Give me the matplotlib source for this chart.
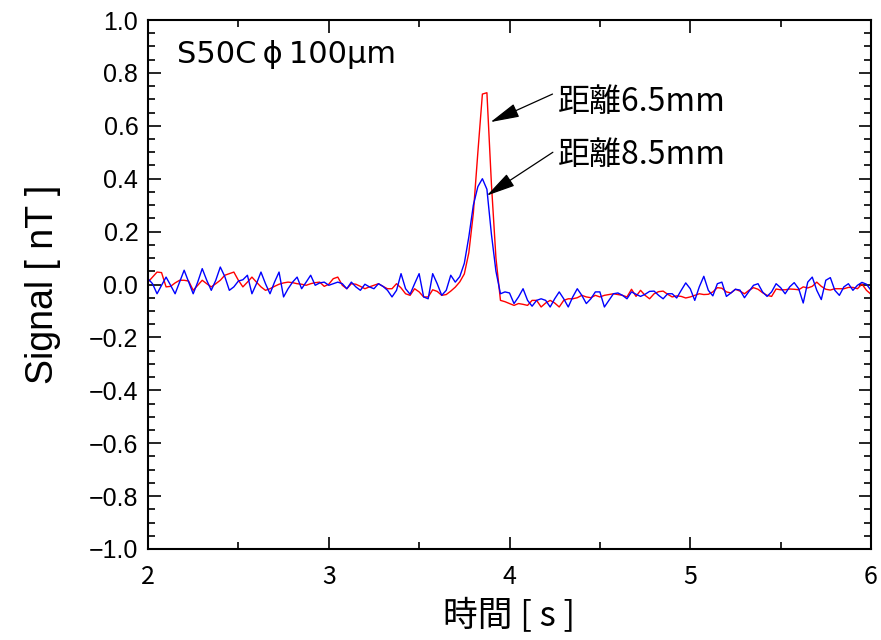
import numpy as np
import matplotlib
matplotlib.use("Agg")
import matplotlib.pyplot as plt

# sampling grid
t_start = 2.0
dt = 0.025

red_650 = [
    0.009, 0.028, 0.047, 0.045, -0.009, -0.007, 0.006, 0.016, 0.016, 0.013,
    -0.022, -0.003, 0.016, 0.003, -0.009, 0.003, 0.016, 0.035, 0.041, 0.047,
    0.016, -0.009, 0.009, 0.028, 0.009, -0.009, -0.022, -0.016, -0.007, 0.001,
    0.006, 0.009, 0.007, 0.003, 0.001, -0.003, 0.003, 0.007, 0.009, -0.007,
    0.001, 0.022, 0.028, -0.003, -0.016, 0.003, 0.001, -0.007, -0.016, -0.009,
    -0.003, 0.003, -0.007, -0.016,
    -0.016, 0.003, -0.013, -0.035, -0.041, -0.016, -0.028, -0.047, -0.047, -0.020,
    -0.026, -0.041, -0.038, -0.025,
    -0.010, 0.010, 0.040, 0.120, 0.270, 0.500, 0.720, 0.725, 0.380, 0.100,
    -0.060, -0.065,
    -0.072, -0.079, -0.072, -0.075, -0.079, -0.060, -0.060, -0.085, -0.070, -0.060,
    -0.070, -0.085, -0.060, -0.054, -0.054, -0.050, -0.041, -0.047, -0.050, -0.041,
    -0.047, -0.041, -0.038, -0.035, -0.038, -0.041, -0.047, -0.018,
    -0.045, -0.022, -0.041, -0.054, -0.035, -0.027, -0.025, -0.037, -0.047, -0.043,
    -0.045, -0.051, -0.047, -0.041, -0.035, -0.038, -0.037, -0.028, -0.012, -0.014,
    -0.028, -0.032, -0.018, -0.025, -0.035, -0.022, -0.012, -0.018, -0.031, -0.041,
    -0.045, -0.017, -0.020, -0.020, -0.017, -0.018, -0.020, -0.009, -0.013, -0.007,
    0.009, -0.007, -0.018, -0.021, -0.016, -0.016, -0.016, -0.011, -0.011, -0.016,
    0.002, -0.022, -0.037,
]

blue_850 = [
    0.022, 0.003, -0.035, -0.003, 0.028, -0.003, -0.035, 0.009, 0.054, 0.009,
    -0.035, 0.009, 0.060, 0.016, -0.022, 0.016, 0.066, 0.030, -0.022, -0.009,
    0.013, 0.018, 0.035, -0.035, 0.003, 0.047, 0.003, -0.035, 0.009, 0.047,
    -0.047, -0.016, 0.009, 0.028, -0.016, 0.009, 0.035, -0.003, 0.006, 0.009,
    -0.003, 0.003, 0.009, 0.003, -0.016, 0.009, -0.009, -0.022, 0.001, -0.009,
    -0.016, 0.003, -0.007, -0.022,
    -0.047, -0.022, 0.041, -0.016, -0.037, 0.003, 0.041, -0.047, -0.054, 0.041,
    0.003, -0.041, -0.022, 0.035, 0.009, 0.030,
    0.080, 0.180, 0.300, 0.370, 0.400, 0.360, 0.190, 0.050, -0.035,
    -0.028, -0.032, -0.072, -0.047, -0.016, -0.060, -0.082, -0.060, -0.054, -0.060,
    -0.085, -0.054, -0.028, -0.054, -0.085, -0.047, -0.016, -0.041, -0.072, -0.054,
    -0.028, -0.028, -0.085, -0.060, -0.035, -0.032, -0.041, -0.054, -0.028,
    -0.037, -0.045, -0.037, -0.026, -0.025, -0.041, -0.054, -0.035, -0.035, -0.051,
    -0.022, 0.006, -0.016, -0.060, -0.009, 0.031, -0.022, -0.043, 0.003, 0.009,
    -0.045, -0.032, -0.018, -0.021, -0.050, -0.026, -0.003, 0.003, -0.028, -0.045,
    -0.028, 0.003, -0.012, -0.035, -0.009, 0.007, -0.016, -0.070, 0.009, 0.028,
    -0.022, -0.057, 0.016, 0.026, -0.022, -0.041, -0.009, 0.003, -0.022, -0.003,
    0.008, 0.001, -0.022,
]

t = t_start + dt * np.arange(len(red_650))

x_ticks = [2, 3, 4, 5, 6]
y_ticks = [-1.0, -0.8, -0.6, -0.4, -0.2, 0.0, 0.2, 0.4, 0.6, 0.8, 1.0]

label_650 = "距離6.5mm"
label_850 = "距離8.5mm"
sample_label = "S50C\u2009\u03d5\u2009100\u03bcm"
xlabel = "時間 [ s ]"
ylabel = "Signal [ nT ]"

JP = ["Noto Sans CJK JP", "DejaVu Sans"]
LAT = ["Liberation Sans", "DejaVu Sans"]

fig = plt.figure(figsize=(8.81, 6.4), dpi=100)
ax = fig.add_axes([148 / 881, 1 - 549 / 640, (871 - 148) / 881, (549 - 20) / 640])

ax.plot(t, red_650, color="#ff0000", lw=1.0)
ax.plot(t, blue_850, color="#0000ff", lw=1.0)

ax.set_xlim(2, 6)
ax.set_ylim(-1.0, 1.0)
ax.set_xticks(x_ticks)
ax.set_yticks(y_ticks)
ax.set_xticks(np.arange(2, 6.01, 0.5), minor=True)
ax.set_yticks(np.arange(-1.0, 1.001, 0.05), minor=True)
ax.set_yticklabels([f"{v:.1f}".replace("-", "\u2212") for v in y_ticks])
ax.set_xticklabels([str(v) for v in x_ticks])

ax.tick_params(which="both", direction="in", top=True, right=True, width=1.2)
ax.tick_params(which="major", length=9)
ax.tick_params(which="minor", length=5)
ax.tick_params(axis="y", pad=7)
ax.tick_params(axis="x", pad=11)
for lab in ax.get_yticklabels():
    lab.set_fontfamily(LAT)
    lab.set_fontsize(18)
for lab in ax.get_xticklabels():
    lab.set_fontfamily(JP)
    lab.set_fontsize(18)

for sp in ax.spines.values():
    sp.set_linewidth(1.5)

ax.set_xlabel(xlabel, fontfamily=JP, fontsize=25, labelpad=6)
ax.set_ylabel(ylabel, fontfamily=LAT, fontsize=27, labelpad=20)

ax.text(2.16, 0.87, sample_label, fontfamily=["DejaVu Sans"], fontsize=22,
        ha="left", va="center")

ax.text(4.27, 0.69, label_650, fontfamily=JP, fontsize=23, ha="left", va="center")
ax.text(4.27, 0.49, label_850, fontfamily=JP, fontsize=23, ha="left", va="center")

arrow = dict(arrowstyle="-|>,head_length=0.9,head_width=0.22", color="black",
             lw=0.9, mutation_scale=20, shrinkA=0, shrinkB=0)
ax.annotate("", xy=(3.895, 0.614), xytext=(4.238, 0.72), arrowprops=arrow)
ax.annotate("", xy=(3.874, 0.336), xytext=(4.24, 0.50), arrowprops=arrow)

fig.savefig("out.png", dpi=100)
